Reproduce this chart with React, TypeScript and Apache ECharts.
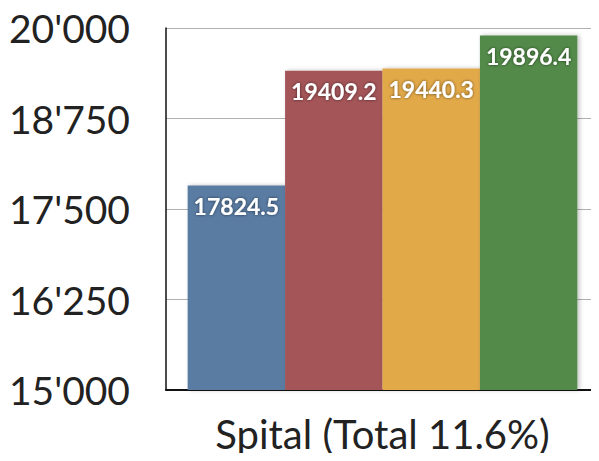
import React, { useEffect, useRef } from "react";
import * as echarts from "echarts";

// Category and the four yearly totals shown as side-by-side bars
const categories = ["Spital (Total 11.6%)"];
const seriesNames = ["A", "B", "C", "D"];
const seriesValues = [17824.5, 19409.2, 19440.3, 19896.4];
const seriesColors = ["#5a7ba3", "#a45559", "#e2a948", "#538a48"];

// Value axis range and step
const yMin = 15000;
const yMax = 20000;
const yStep = 1250;

const FONT = "Lato, 'Open Sans', 'DejaVu Sans', sans-serif";

const formatThousands = (v: number) => {
  const s = Math.round(v).toString();
  return s.replace(/\B(?=(\d{3})+(?!\d))/g, "'");
};

export default function App() {
  const ref = useRef<HTMLDivElement>(null);

  useEffect(() => {
    if (!ref.current) return;
    const chart = echarts.init(ref.current, undefined, { renderer: "svg" });

    chart.setOption({
      animation: false,
      backgroundColor: "#ffffff",
      grid: { left: 166, right: -6, top: 28, bottom: 71, containLabel: false },
      xAxis: {
        type: "category",
        data: categories,
        axisLine: { show: true, lineStyle: { color: "#111", width: 2 } },
        axisTick: { show: false },
        axisLabel: {
          color: "#222",
          fontFamily: FONT,
          fontSize: 40,
          margin: 24,
        },
      },
      yAxis: {
        type: "value",
        min: yMin,
        max: yMax,
        interval: yStep,
        axisLine: { show: true, lineStyle: { color: "#111", width: 1.5 } },
        axisTick: { show: false },
        splitLine: { show: true, lineStyle: { color: "#b0b0b0", width: 1 } },
        axisLabel: {
          color: "#222",
          fontFamily: FONT,
          fontSize: 39,
          margin: 36,
          formatter: (v: number) => formatThousands(v),
        },
      },
      series: seriesValues.map((v, i) => ({
        name: seriesNames[i],
        type: "bar",
        data: [v],
        barGap: "0%",
        barCategoryGap: "10%",
        itemStyle: {
          color: seriesColors[i],
          shadowColor: "rgba(0,0,0,0.25)",
          shadowBlur: 4,
          shadowOffsetX: 2,
        },
        label: {
          show: true,
          position: "insideTop",
          distance: 9,
          color: "#ffffff",
          fontFamily: FONT,
          fontWeight: "bold",
          fontSize: 23,
          textShadowColor: "rgba(0,0,0,0.6)",
          textShadowBlur: 3,
          formatter: (p: any) => p.value.toFixed(1),
        },
      })),
    });

    return () => chart.dispose();
  }, []);

  return <div ref={ref} style={{ width: 599, height: 461, margin: -8 }} />;
}
